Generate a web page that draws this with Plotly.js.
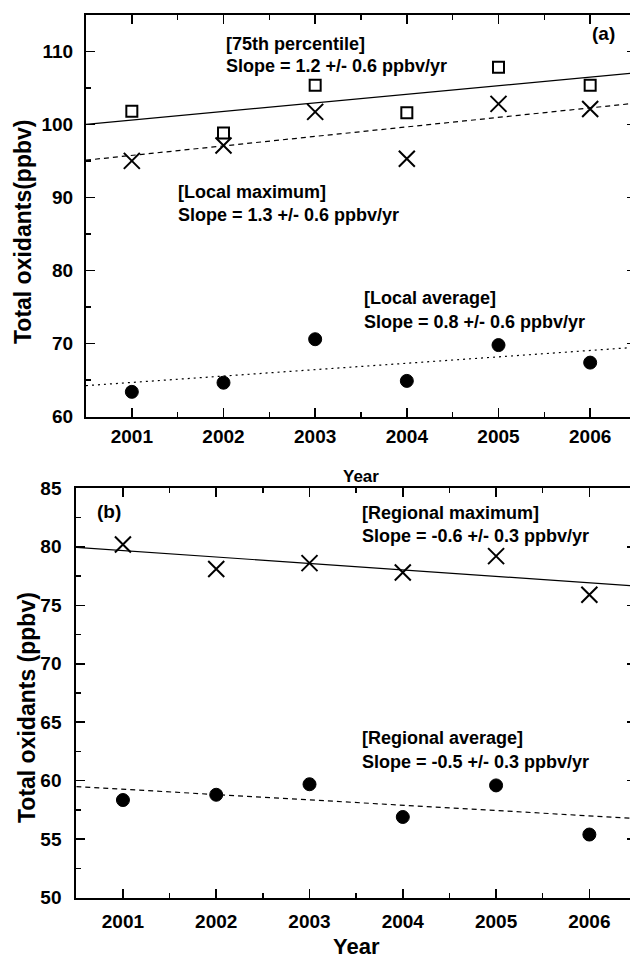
<!DOCTYPE html>
<html>
<head>
<meta charset="utf-8">
<script src="https://cdn.plot.ly/plotly-3.0.1.min.js"></script>
<style>
html,body{margin:0;padding:0;overflow:hidden;background:#fff;width:630px;height:960px;}
#chart{width:640px;height:960px;}
</style>
</head>
<body>
<div id="chart"></div>
<script>
// ---- data ----
const years = [2001, 2002, 2003, 2004, 2005, 2006];
const yearTicks = ['2001', '2002', '2003', '2004', '2005', '2006'];
// panel (a)
const p75 = [101.8, 98.8, 105.35, 101.6, 107.8, 105.35];
const localMax = [95.0, 97.1, 101.7, 95.3, 102.8, 102.1];
const localAvg = [63.4, 64.65, 70.6, 64.9, 69.8, 67.4];
// panel (b)
const regMax = [80.2, 78.1, 78.6, 77.8, 79.2, 75.9];
const regAvg = [58.35, 58.8, 59.7, 56.9, 59.6, 55.4];
// fitted trend lines (end points)
const fitYears = [2000.5, 2006.5];
const fitP75 = [100.0, 107.05];
const fitLocalMax = [95.1, 102.9];
const fitLocalAvg = [64.25, 69.5];
const fitRegMax = [79.95, 76.65];
const fitRegAvg = [59.5, 56.77];
// labels
const labelsA = ['[75th percentile]', 'Slope = 1.2 +/- 0.6 ppbv/yr',
                 '[Local maximum]', 'Slope = 1.3 +/- 0.6 ppbv/yr',
                 '[Local average]', 'Slope = 0.8 +/- 0.6 ppbv/yr'];
const labelsB = ['[Regional maximum]', 'Slope = -0.6 +/- 0.3 ppbv/yr',
                 '[Regional average]', 'Slope = -0.5 +/- 0.3 ppbv/yr'];

// ---- layout helpers ----
const W = 640, H = 960;
const px = x => x / W;
const py = y => 1 - y / H;
const FONT = 'Arial, "Liberation Sans", sans-serif';
const black = '#000';

function mk(x, y, xa, ya, sym, size, lw) {
  return {x: x, y: y, xaxis: xa, yaxis: ya, type: 'scatter', mode: 'markers',
    marker: {symbol: sym, size: size, color: black,
             line: {color: black, width: lw}},
    hoverinfo: 'skip', showlegend: false, cliponaxis: false};
}
function ln(x, y, xa, ya, dash) {
  return {x: x, y: y, xaxis: xa, yaxis: ya, type: 'scatter', mode: 'lines',
    line: {color: black, width: 1.2, dash: dash}, hoverinfo: 'skip', showlegend: false};
}

const traces = [
  ln(fitYears, fitP75, 'x', 'y', 'solid'),
  ln(fitYears, fitLocalMax, 'x', 'y', '5px,4px'),
  ln(fitYears, fitLocalAvg, 'x', 'y', '2px,4px'),
  mk(years, p75, 'x', 'y', 'square-open', 11, 2),
  mk(years, localMax, 'x', 'y', 'x-thin-open', 16, 2),
  mk(years, localAvg, 'x', 'y', 'circle', 13, 1),
  ln(fitYears, fitRegMax, 'x2', 'y2', 'solid'),
  ln(fitYears, fitRegAvg, 'x2', 'y2', '5px,4px'),
  mk(years, regMax, 'x2', 'y2', 'x-thin-open', 16, 2),
  mk(years, regAvg, 'x2', 'y2', 'circle', 13, 1)
];

function xAxis(dom, anchor, fs, standoff) {
  return {domain: dom, anchor: anchor, range: [2000.5, 2006.5],
    tickmode: 'array', tickvals: years, ticktext: yearTicks,
    ticks: 'inside', ticklen: 9, tickwidth: 1.5, tickcolor: black,
    minor: {ticks: 'inside', ticklen: 5, tickwidth: 1.5, tickcolor: black, tickmode: 'linear', tick0: 2000.5, dtick: 1},
    showline: true, linewidth: 2, linecolor: black, mirror: 'ticks',
    showgrid: false, zeroline: false, fixedrange: true,
    tickfont: {family: FONT, size: fs, color: black, weight: 'bold'},
    ticklabelstandoff: standoff};
}
function yAxis(dom, anchor, range, dtick, fs, standoff) {
  return {domain: dom, anchor: anchor, range: range,
    tick0: range[0], dtick: dtick,
    ticks: 'inside', ticklen: 9, tickwidth: 1.5, tickcolor: black,
    minor: {ticks: 'inside', ticklen: 5, tickwidth: 1.5, tickcolor: black, dtick: dtick / 2},
    showline: true, linewidth: 2, linecolor: black, mirror: 'ticks',
    showgrid: false, zeroline: false, fixedrange: true,
    tickfont: {family: FONT, size: fs, color: black, weight: 'bold'},
    ticklabelstandoff: standoff};
}

function txt(text, x, y, size, opts) {
  return Object.assign({text: text, xref: 'paper', yref: 'paper', x: px(x), y: py(y),
    xanchor: 'left', yanchor: 'middle', showarrow: false,
    font: {family: FONT, size: size, color: black, weight: 'bold'}}, opts || {});
}

const annotations = [
  txt(labelsA[0], 224, 44, 18),
  txt(labelsA[1], 224, 66, 18),
  txt(labelsA[2], 176, 192, 18),
  txt(labelsA[3], 176, 215, 18),
  txt(labelsA[4], 362, 298, 18),
  txt(labelsA[5], 362, 322, 18),
  txt('(a)', 603, 34, 19, {xanchor: 'center'}),
  txt(labelsB[0], 360, 513, 18),
  txt(labelsB[1], 360, 536, 18),
  txt(labelsB[2], 360, 738, 18),
  txt(labelsB[3], 360, 762, 18),
  txt('(b)', 109, 511, 19, {xanchor: 'center'}),
  txt('Total oxidants(ppbv)', 23, 232, 23, {xanchor: 'center', textangle: -90}),
  txt('Total oxidants (ppbv)', 27, 708, 23, {xanchor: 'center', textangle: -90}),
  txt('Year', 361, 477, 17, {xanchor: 'center'}),
  txt('Year', 356, 946, 22, {xanchor: 'center'})
];

const layout = {
  width: W, height: H,
  margin: {l: 0, r: 0, t: 0, b: 0},
  paper_bgcolor: '#fff', plot_bgcolor: '#fff',
  showlegend: false,
  xaxis: xAxis([px(86), px(636)], 'y', 19, 1),
  yaxis: yAxis([py(416.7), py(14.7)], 'x', [60, 115], 10, 19, 7),
  xaxis2: xAxis([px(76.3), px(636)], 'y2', 19, 5),
  yaxis2: yAxis([py(897.7), py(488.3)], 'x2', [50, 85], 5, 19, 9),
  annotations: annotations
};

Plotly.newPlot('chart', traces, layout, {staticPlot: true, displayModeBar: false});
</script>
</body>
</html>
